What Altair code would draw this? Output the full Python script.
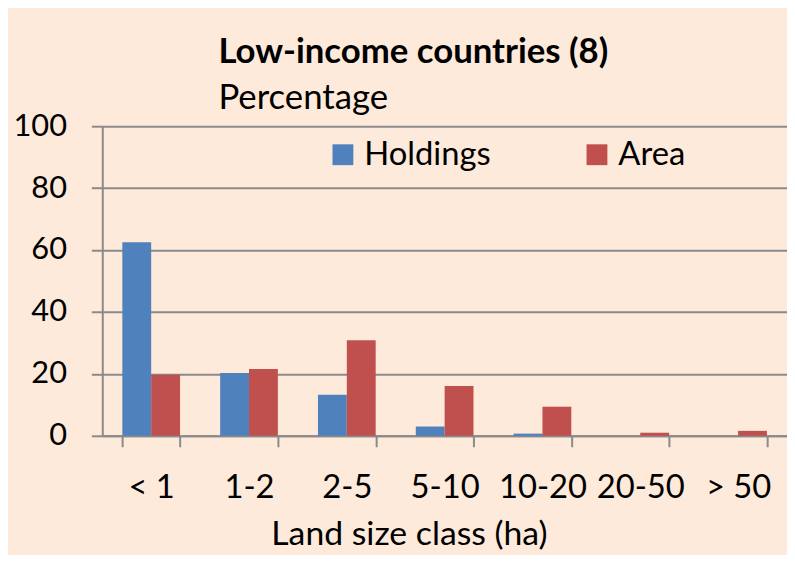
import altair as alt
import pandas as pd

categories = ["< 1", "1-2", "2-5", "5-10", "10-20", "20-50", "> 50"]
holdings = [62.5, 20.3, 13.3, 3.0, 0.7, 0.0, 0.0]
area = [19.7, 21.6, 30.9, 16.1, 9.4, 1.0, 1.6]
series = ["Holdings", "Area"]
colors = ["#4F81BD", "#C0504D"]

rows = []
for c, h, a in zip(categories, holdings, area):
    rows.append({"cls": c, "series": "Holdings", "value": h})
    rows.append({"cls": c, "series": "Area", "value": a})
df = pd.DataFrame(rows)

FONT = "Lato"
GRID = "#8a8a8a"

chart = alt.Chart(df).mark_bar().encode(
    x=alt.X("cls:N", sort=categories,
            scale=alt.Scale(paddingInner=0.41, paddingOuter=0.205),
            axis=alt.Axis(title="Land size class (ha)", labelAngle=0,
                          tickBand="extent", tickSize=11, tickColor=GRID,
                          tickWidth=2, domainColor=GRID, domainWidth=2,
                          labelFont=FONT, labelFontSize=33, labelColor="black",
                          labelPadding=25, titleFont=FONT, titleFontSize=34,
                          titleFontWeight="normal", titleColor="black",
                          titleX=309, titleY=110, titleAnchor="start",
                          titleAlign="center", titleBaseline="alphabetic")),
    xOffset=alt.XOffset("series:N", sort=series, scale=alt.Scale(domain=series, paddingInner=0, paddingOuter=0)),
    y=alt.Y("value:Q", scale=alt.Scale(domain=[0, 100]),
            axis=alt.Axis(title=None, values=[0, 20, 40, 60, 80, 100],
                          grid=True, gridColor=GRID, gridWidth=2,
                          tickSize=11, tickColor=GRID, tickWidth=2,
                          domainColor=GRID, domainWidth=2,
                          labelFont=FONT, labelFontSize=31, labelColor="black",
                          labelPadding=25)),
    color=alt.Color("series:N", sort=series,
                    scale=alt.Scale(domain=series, range=colors),
                    legend=alt.Legend(title=None, orient="none", legendX=226, legendY=12,
                                      direction="horizontal", symbolType="square",
                                      symbolSize=441, symbolStrokeWidth=0,
                                      labelFont=FONT, labelFontSize=33,
                                      labelColor="black", labelOffset=5,
                                      columnPadding=90, padding=0)),
).properties(
    width=690,
    height=312,
    background="#FDEADA",
    padding={"left": 95, "top": 117, "right": 0, "bottom": 118},
    autosize=alt.AutoSizeParams(type="none"),
    title=alt.TitleParams(text="Low-income countries (8)", subtitle="Percentage",
                          anchor="start", frame="group", dx=117, offset=-6,
                          font=FONT, fontSize=35, fontWeight="bold", color="black",
                          subtitleFont=FONT, subtitleFontSize=35, subtitleColor="black",
                          subtitlePadding=12),
).configure_view(stroke=None)

chart.save("out.html", embed_options={"renderer": "svg", "actions": False})
